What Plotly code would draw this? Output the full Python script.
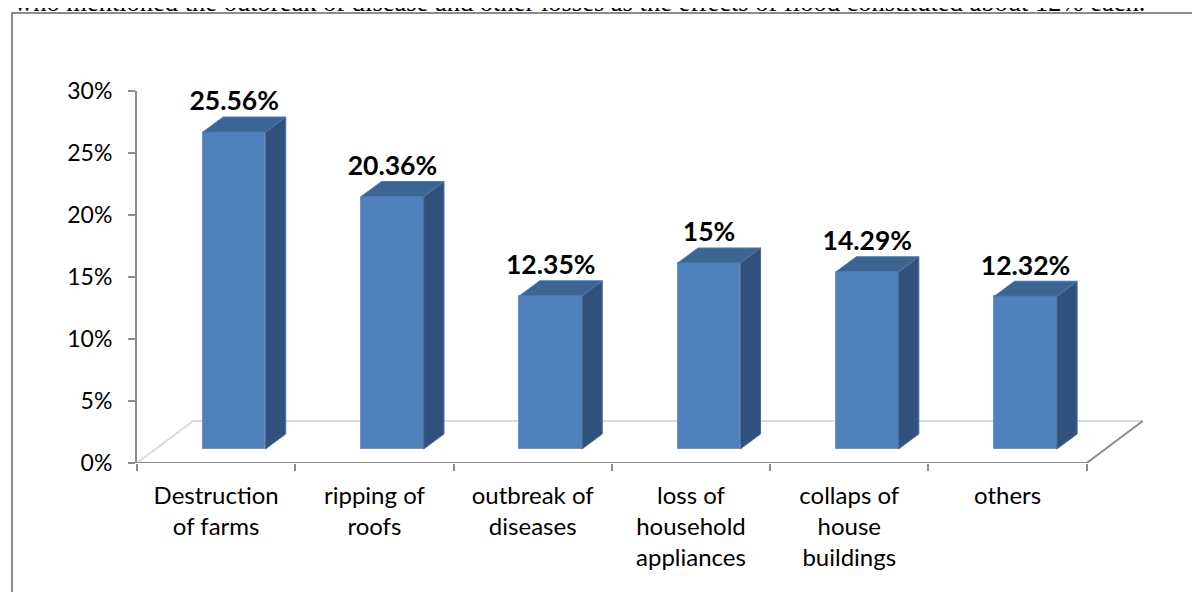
import plotly.graph_objects as go

categories = ["Destruction<br>of farms", "ripping of<br>roofs", "outbreak of<br>diseases",
              "loss of<br>household<br>appliances", "collaps of<br>house<br>buildings", "others"]
values = [25.56, 20.36, 12.35, 15, 14.29, 12.32]
value_labels = ["25.56%", "20.36%", "12.35%", "15%", "14.29%", "12.32%"]
y_ticks = [0, 5, 10, 15, 20, 25, 30]
y_ticktext = ["0%", "5%", "10%", "15%", "20%", "25%", "30%"]
caption = "who mentioned the outbreak of disease and other losses as the effects of flood constituted about 12% each."

# fake 3d geometry (in axis units)
base = 1.13        # bar bottom sits a bit behind the front edge of the floor
shift = 0.114      # bar offset to the right inside its category
bar_w = 0.395
dx, dy = 0.128, 1.21      # bar depth
fdx, fdy = 0.354, 3.39    # floor depth
n = len(values)

front = "#4f81bd"
top_c = "#3d6593"
side_c = "#31527c"
axis_c = "#8c8c8c"

fig = go.Figure()

side_x, side_y, top_x, top_y = [], [], [], []
for i, v in enumerate(values):
    x0 = i + 0.5 + shift - bar_w / 2
    x1 = x0 + bar_w
    t = base + v
    side_x += [x1, x1 + dx, x1 + dx, x1, x1, None]
    side_y += [base, base + dy, t + dy, t, base, None]
    top_x += [x0, x0 + dx, x1 + dx, x1, x0, None]
    top_y += [t, t + dy, t + dy, t, t, None]

fig.add_trace(go.Scatter(x=side_x, y=side_y, fill="toself", fillcolor=side_c, mode="lines",
                         line=dict(color="#4a6d96", width=1), hoverinfo="skip", showlegend=False))
fig.add_trace(go.Scatter(x=top_x, y=top_y, fill="toself", fillcolor=top_c, mode="lines",
                         line=dict(color="#5577a3", width=1), hoverinfo="skip", showlegend=False))

fig.add_trace(go.Bar(x=[i + 0.5 + shift for i in range(n)], y=values, base=[base] * n,
                     width=bar_w, marker=dict(color=front, line=dict(color="#6a93c6", width=1)),
                     showlegend=False))

fig.add_trace(go.Scatter(x=[i + 0.5 + shift for i in range(n)], y=[base + v + dy for v in values],
                         mode="text", text=value_labels, textposition="top center",
                         textfont=dict(family="Lato", size=26.5, color="black", weight="bold"),
                         cliponaxis=False, hoverinfo="skip", showlegend=False))

# dummy trace so the tick-mark axis gets drawn
fig.add_trace(go.Scatter(x=[0], y=[0], xaxis="x2", mode="markers", marker=dict(opacity=0),
                         hoverinfo="skip", showlegend=False))

# floor of the 3d plot, kept below the bars
fig.add_shape(type="path", path=f"M 0 0 L {fdx} {fdy} L {n + fdx} {fdy}",
              line=dict(color="#dcdcdc", width=2), layer="below")
fig.add_shape(type="path", path=f"M 0 0 L {n} 0 L {n + fdx} {fdy}",
              line=dict(color=axis_c, width=2), layer="below")

# sentence cut off at the top of the page
fig.add_annotation(text=caption, xref="paper", yref="paper", x=-0.1234, y=1.2395,
                   xanchor="left", yanchor="middle", showarrow=False,
                   font=dict(family="Liberation Serif", size=26.5, color="black"))

fig.add_shape(type="rect", xref="paper", yref="paper", x0=-0.1234, x1=1.07, y0=-0.45, y1=1.2097,
              line=dict(color="#8c8c8c", width=2), fillcolor="rgba(0,0,0,0)")

fig.update_layout(
    width=1200, height=592,
    margin=dict(l=129, r=58, t=83, b=137, autoexpand=False),
    paper_bgcolor="white", plot_bgcolor="white",
    bargap=0,
    xaxis=dict(range=[0, n + 0.4], tickvals=[i + 0.5 for i in range(n)], ticktext=categories,
               showline=False, showgrid=False, zeroline=False, ticks="", ticklabelstandoff=16,
               automargin=False,
               tickfont=dict(family="Lato", size=24, color="black"), fixedrange=True),
    xaxis2=dict(range=[0, n + 0.4], overlaying="x", tickvals=list(range(n + 1)), ticks="outside",
                ticklen=7, tickwidth=2, tickcolor=axis_c, showticklabels=False, showgrid=False,
                zeroline=False, showline=False, anchor="y", automargin=False),
    yaxis=dict(range=[0, 30], tickvals=y_ticks, ticktext=y_ticktext, showline=True, linecolor=axis_c,
               linewidth=2, ticks="outside", ticklen=7, tickwidth=2, tickcolor=axis_c,
               showgrid=False, zeroline=False, ticklabelstandoff=11, automargin=False,
               tickfont=dict(family="Lato", size=23, color="black")),
)

fig.write_html("out.html")
